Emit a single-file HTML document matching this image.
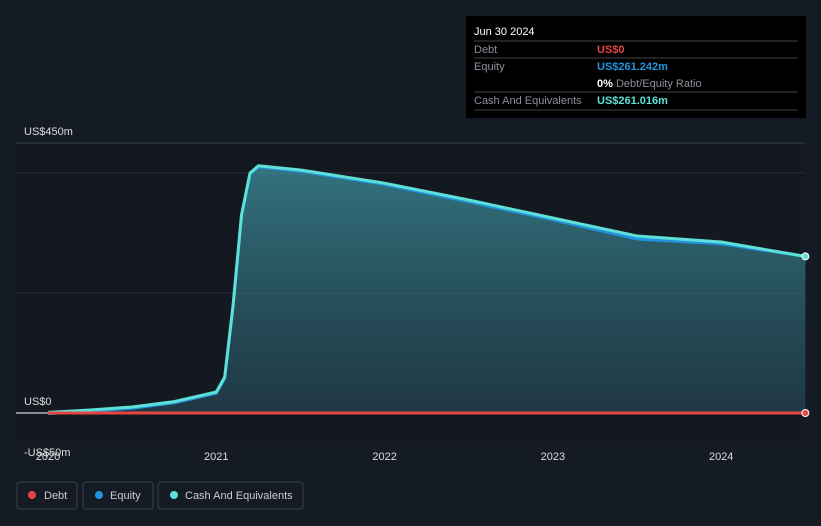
<!DOCTYPE html>
<html><head><meta charset="utf-8"><style>
body{margin:0;background:#151b25;font-family:"Liberation Sans",sans-serif;}
svg{display:block}
</style></head><body>
<svg id="c" width="821" height="526">
<rect x="0" y="0" width="821" height="526" fill="#151b25"/>
<rect x="16" y="143" width="789" height="300" fill="#131821"/>
<defs><linearGradient id="g" x1="0" y1="0" x2="0" y2="1"><stop offset="0" stop-color="#3a8a96" stop-opacity="0.8"/><stop offset="1" stop-color="#2a5866" stop-opacity="0.5"/></linearGradient></defs>
<g id="grid"></g><g id="series"></g><g id="axes"></g>
<g>
<rect x="466" y="16" width="340" height="102" fill="#000"/>
<text x="474" y="35" fill="#fff" font-size="11">Jun 30 2024</text>
<line x1="474" y1="41" x2="798" y2="41" stroke="#444"/>
<text x="474" y="53" fill="#8a8f98" font-size="11">Debt</text><text x="597" y="53" fill="#e64545" font-size="11" font-weight="bold">US$0</text>
<line x1="474" y1="58" x2="798" y2="58" stroke="#444"/>
<text x="474" y="70" fill="#8a8f98" font-size="11">Equity</text><text x="597" y="70" fill="#2394df" font-size="11" font-weight="bold">US$261.242m</text>
<text x="597" y="87" fill="#fff" font-size="11" font-weight="bold">0%<tspan fill="#8a8f98" font-weight="normal"> Debt/Equity Ratio</tspan></text>
<line x1="474" y1="92" x2="798" y2="92" stroke="#444"/>
<text x="474" y="104" fill="#8a8f98" font-size="11">Cash And Equivalents</text><text x="597" y="104" fill="#5ee0d6" font-size="11" font-weight="bold">US$261.016m</text>
<line x1="474" y1="110" x2="798" y2="110" stroke="#444"/>
</g>
<g>
<rect x="17" y="482" width="60" height="27" rx="3" fill="none" stroke="#3a414d"/>
<circle cx="32" cy="495" r="4" fill="#e64545"/><text x="44" y="499" fill="#ccc" font-size="11">Debt</text>
<rect x="83" y="482" width="70" height="27" rx="3" fill="none" stroke="#3a414d"/>
<circle cx="99" cy="495" r="4" fill="#2394df"/><text x="110" y="499" fill="#ccc" font-size="11">Equity</text>
<rect x="158" y="482" width="145" height="27" rx="3" fill="none" stroke="#3a414d"/>
<circle cx="174" cy="495" r="4" fill="#5ee0d6"/><text x="185" y="499" fill="#ccc" font-size="11">Cash And Equivalents</text>
</g>
</svg>
<script>
const cashT=[2020.0,2020.25,2020.5,2020.75,2021.0,2021.05,2021.1,2021.15,2021.2,2021.25,2021.5,2022.0,2022.5,2023.0,2023.5,2024.0,2024.5];
const cashV=[1,5,10,19,35,60,180,330,400,412,405,383,355,325,295,285,261];
const eqT=[2020.0,2020.25,2020.5,2020.75,2021.0,2021.05,2021.1,2021.15,2021.2,2021.25,2021.5,2022.0,2022.5,2023.0,2023.5,2024.0,2024.5];
const eqV=[-1,3,8,17,33,58,178,328,398,410,403,381,352,322,290,282,261];
const debtT=[2020.0,2024.5];
const debtV=[0,0];
const yTicks=[-50,0,450];
const yLabels=["-US$50m","US$0","US$450m"];
const gridVals=[200,400,450];
const xTicks=[2020,2021,2022,2023,2024];
const X=t=>48+(t-2020)*168.3;
const Y=v=>413-v*0.6;
const NS="http://www.w3.org/2000/svg";
function mk(tag,attrs,parent){const e=document.createElementNS(NS,tag);for(const k in attrs)e.setAttribute(k,attrs[k]);document.getElementById(parent).appendChild(e);return e;}
gridVals.forEach(v=>{const l=mk('line',{x1:16,x2:805,y1:Y(v),y2:Y(v),stroke:v==450?'#3a414d':'#2a313c'},'grid');

});
yTicks.forEach((v,i)=>{const t=mk('text',{x:24,y:v==450?Y(v)-8:(v==0?Y(v)-8:Y(v)-6+19),fill:'#ddd','font-size':11},'axes');t.textContent=yLabels[i];

});
xTicks.forEach(v=>{const t=mk('text',{x:X(v),y:460,fill:'#ddd','font-size':11,'text-anchor':'middle'},'axes');t.textContent=v;

});
const zl=mk('line',{x1:16,x2:48,y1:Y(0),y2:Y(0),stroke:'#fff'},'axes');


const pts=(T,V)=>T.map((t,i)=>X(t).toFixed(1)+','+Y(V[i]).toFixed(1)).join(' ');
const area=mk('polygon',{points:pts(cashT,cashV)+' '+X(2024.5)+','+Y(0)+' '+X(2020)+','+Y(0),fill:'url(#g)'},'series');


const eq=mk('polyline',{points:pts(eqT,eqV),fill:'none',stroke:'#2394df','stroke-width':3,'stroke-linejoin':'round'},'series');


const cash=mk('polyline',{points:pts(cashT,cashV),fill:'none',stroke:'#5ee0d6','stroke-width':3,'stroke-linejoin':'round'},'series');


const debt=mk('polyline',{points:pts(debtT,debtV),fill:'none',stroke:'#e64545','stroke-width':3},'series');


const d1=mk('circle',{cx:X(2024.5),cy:Y(cashV[cashV.length-1]),r:3.5,fill:'#5ee0d6',stroke:'#fff','stroke-width':1},'series');


const d2=mk('circle',{cx:X(2024.5),cy:Y(debtV[debtV.length-1]),r:3.5,fill:'#e64545',stroke:'#fff','stroke-width':1},'series');


</script>
</body></html>
